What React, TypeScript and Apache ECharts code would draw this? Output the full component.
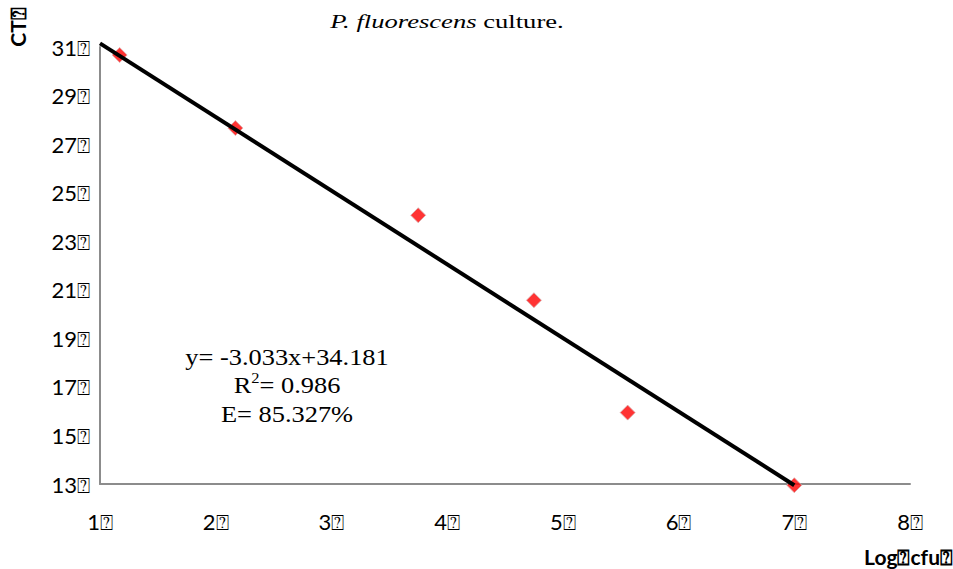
import React, { useEffect, useRef } from "react";
import * as echarts from "echarts";

// Standard curve: log cfu vs. threshold cycle
const logCfu = [1.17, 2.17, 3.75, 4.75, 5.56, 7.0];
const ctValues = [30.67, 27.66, 24.07, 20.57, 15.94, 12.95];

// Linear fit reported on the chart
const slope = -3.033;
const intercept = 34.181;
const fitRange = [1, 7];

const xTicks = [1, 2, 3, 4, 5, 6, 7, 8];
const yTicks = [13, 15, 17, 19, 21, 23, 25, 27, 29, 31];

const mark = "\u2370";
const sans = "Lato, 'Noto Sans', sans-serif";
const serif = "'Liberation Serif', 'Times New Roman', serif";

export default function App() {
  const ref = useRef<HTMLDivElement>(null);

  useEffect(() => {
    document.body.style.margin = "0";
    const chart = echarts.init(ref.current!, null, { renderer: "svg" });
    const fitLine = fitRange.map((x) => [x, intercept + slope * x]);

    chart.setOption({
      animation: false,
      backgroundColor: "#ffffff",
      grid: { left: 100, right: 43, top: 47, bottom: 85 },
      xAxis: {
        type: "value",
        min: xTicks[0],
        max: xTicks[xTicks.length - 1],
        interval: 1,
        axisLine: { show: true, lineStyle: { color: "#8c8c8c", width: 2 } },
        axisTick: { show: false },
        splitLine: { show: false },
        axisLabel: {
          margin: 26,
          fontFamily: sans,
          fontSize: 22,
          color: "#000",
          formatter: (v: number) => `${v}${mark}`,
        },
      },
      yAxis: {
        type: "value",
        min: yTicks[0],
        max: yTicks[yTicks.length - 1],
        interval: 2,
        axisLine: { show: true, lineStyle: { color: "#8c8c8c", width: 2 } },
        axisTick: { show: false },
        splitLine: { show: false },
        axisLabel: {
          margin: 10,
          fontFamily: sans,
          fontSize: 22,
          color: "#000",
          formatter: (v: number) => `${v}${mark}`,
        },
      },
      series: [
        {
          type: "scatter",
          data: logCfu.map((x, i) => [x, ctValues[i]]),
          clip: false,
          symbol: "diamond",
          symbolSize: 15,
          itemStyle: { color: "#ff0000", borderColor: "#d8b0b0", borderWidth: 1 },
          z: 2,
        },
        {
          type: "line",
          data: fitLine,
          clip: false,
          symbol: "none",
          lineStyle: { color: "#000", width: 4 },
          z: 3,
        },
      ],
      graphic: [
        {
          type: "text",
          x: 447,
          y: 21,
          scaleX: 1.4,
          style: {
            text: "{i|P. fluorescens} culture.",
            rich: {
              i: { fontStyle: "italic", fontFamily: serif, fontSize: 19, fill: "#000" },
            },
            fontFamily: serif,
            fontSize: 19,
            fill: "#000",
            align: "center",
            verticalAlign: "middle",
          },
        },
        {
          type: "text",
          x: 287,
          y: 385,
          scaleX: 1.1,
          style: {
            text: "y= -3.033x+34.181\nR{sup|2}= 0.986\nE= 85.327%",
            rich: {
              sup: { fontFamily: serif, fontSize: 15, verticalAlign: "top", padding: [0, 0, 12, 0], fill: "#000" },
            },
            fontFamily: serif,
            fontSize: 24,
            lineHeight: 28.5,
            fill: "#000",
            align: "center",
            verticalAlign: "middle",
          },
        },
        {
          type: "text",
          x: 17,
          y: 27,
          rotation: Math.PI / 2,
          style: {
            text: `CT${mark}`,
            fontFamily: sans,
            fontWeight: "bold",
            fontSize: 21,
            fill: "#000",
            align: "center",
            verticalAlign: "middle",
          },
        },
        {
          type: "text",
          x: 953,
          y: 556,
          style: {
            text: `Log${mark}cfu${mark}`,
            fontFamily: sans,
            fontWeight: "bold",
            fontSize: 21,
            fill: "#000",
            align: "right",
            verticalAlign: "middle",
          },
        },
      ],
    });

    return () => chart.dispose();
  }, []);

  return <div ref={ref} style={{ width: 953, height: 569 }} />;
}
